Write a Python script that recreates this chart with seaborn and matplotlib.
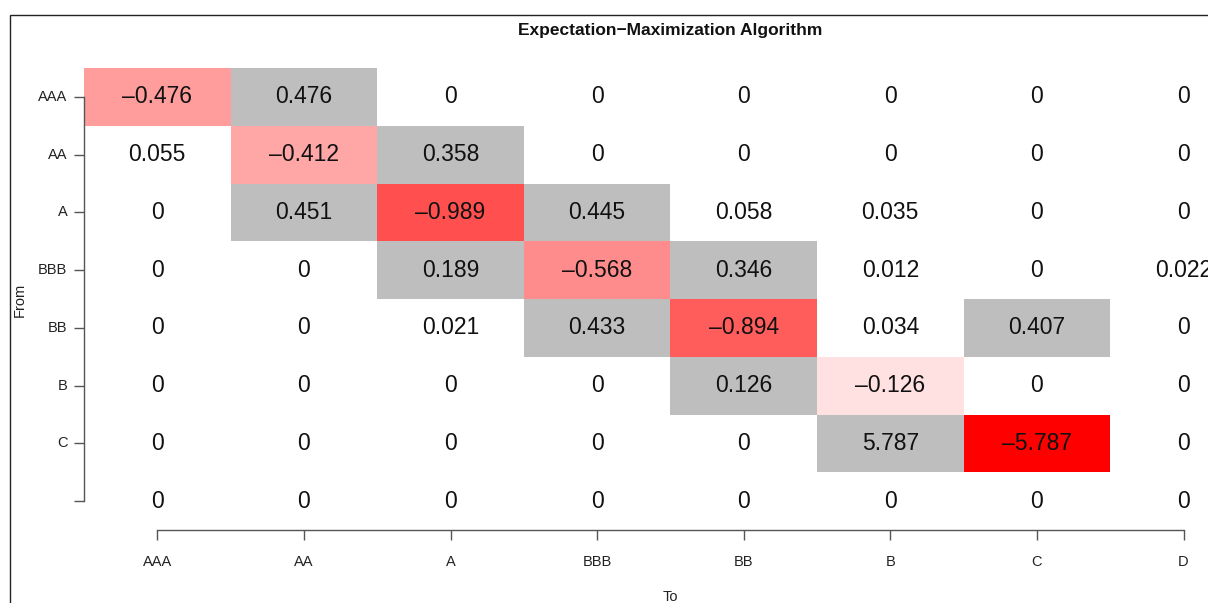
import numpy as np
import pandas as pd
import matplotlib
matplotlib.use("Agg")
import matplotlib.pyplot as plt
import matplotlib.colors as mcolors
from matplotlib.patches import Rectangle
import seaborn as sns

# Rating labels
to_states = ["AAA", "AA", "A", "BBB", "BB", "B", "C", "D"]
from_states = ["AAA", "AA", "A", "BBB", "BB", "B", "C", ""]

# Estimated generator matrix, one list per "From" state
row_AAA = [-0.476, 0.476, 0, 0, 0, 0, 0, 0]
row_AA = [0.055, -0.412, 0.358, 0, 0, 0, 0, 0]
row_A = [0, 0.451, -0.989, 0.445, 0.058, 0.035, 0, 0]
row_BBB = [0, 0, 0.189, -0.568, 0.346, 0.012, 0, 0.022]
row_BB = [0, 0, 0.021, 0.433, -0.894, 0.034, 0.407, 0]
row_B = [0, 0, 0, 0, 0.126, -0.126, 0, 0]
row_C = [0, 0, 0, 0, 0, 5.787, -5.787, 0]
row_D = [0, 0, 0, 0, 0, 0, 0, 0]

# off-diagonal intensities above this are shaded grey
highlight_threshold = 0.1

title = "Expectation\u2212Maximization Algorithm"

plt.rcParams["font.family"] = ["Liberation Sans", "DejaVu Sans"]

Q = pd.DataFrame([row_AAA, row_AA, row_A, row_BBB, row_BB, row_B, row_C, row_D],
                 index=from_states, columns=to_states)
vals = Q.to_numpy()
n = len(to_states)


def fmt(v):
    if v == 0:
        return "0"
    s = f"{v:.3f}"
    return s.replace("-", "\u2013")


labels = np.vectorize(fmt)(vals)

W, H = 1208, 603
fig = plt.figure(figsize=(W / 100, H / 100), dpi=100)

# plotting region in pixels (cells fill it exactly; D column runs past the right edge)
left_px, top_px = 84, 68
cell_w, cell_h = 146.6, 57.75
ax = fig.add_axes([left_px / W, 1 - (top_px + n * cell_h) / H,
                   n * cell_w / W, n * cell_h / H])

diag = np.eye(n, dtype=bool)
gray_mask = ~((vals > highlight_threshold) & ~diag)
red_mask = ~(diag & (vals < 0))

white_red = mcolors.LinearSegmentedColormap.from_list("wr", ["#ffffff", "#ff0000"])
norm = mcolors.FuncNorm((np.log1p, np.expm1), vmin=0, vmax=np.e - 1, clip=True)

# diagonal (exit rates) coloured by magnitude
sns.heatmap(pd.DataFrame(np.abs(vals), index=from_states, columns=to_states),
            mask=red_mask, cmap=white_red, norm=norm, cbar=False, ax=ax,
            annot=False)
# larger off-diagonal transition intensities in grey
sns.heatmap(pd.DataFrame(np.ones_like(vals), index=from_states, columns=to_states),
            mask=gray_mask, cmap=mcolors.ListedColormap(["#bebebe"]), cbar=False,
            ax=ax, annot=False)

# value labels for every cell
for i in range(n):
    for j in range(n):
        ax.text(j + 0.5, i + 0.5, labels[i, j], ha="center", va="center",
                fontsize=16.5, color="#111111", clip_on=False)

ax.set_xlim(0, n)
ax.set_ylim(n, 0)

# R-style axes: lines running from the first to the last tick
for side in ["top", "right"]:
    ax.spines[side].set_visible(False)
for side in ["left", "bottom"]:
    ax.spines[side].set_visible(True)
    ax.spines[side].set_color("#555555")
    ax.spines[side].set_linewidth(1.0)
ax.spines["bottom"].set_bounds(0.5, n - 0.5)
ax.spines["left"].set_bounds(0.5, n - 0.5)

ax.set_xticks(np.arange(n) + 0.5)
ax.set_xticklabels(to_states, rotation=0)
ax.set_yticks(np.arange(n) + 0.5)
ax.set_yticklabels(from_states, rotation=0)
ax.tick_params(axis="both", direction="out", length=7, width=1.0,
               color="#555555", labelsize=10.5, labelcolor="#222222")
ax.tick_params(axis="x", pad=11)
ax.tick_params(axis="y", pad=5)
ax.set_xlabel("")
ax.set_ylabel("")

fig.text(670 / W, 1 - 597 / H, "To", ha="center", va="center", fontsize=10.5,
         color="#222222")
fig.text(20 / W, 1 - 300 / H, "From", ha="center", va="center", fontsize=10.5,
         rotation=90, color="#222222")
fig.text(670 / W, 1 - 30 / H, title, ha="center", va="center", fontsize=12.5,
         fontweight="bold", color="#111111")

# outer frame
fig.add_artist(Rectangle((10 / W, -0.1), 1.2, 1 - 15 / H + 0.1,
                         transform=fig.transFigure, fill=False,
                         edgecolor="#222222", linewidth=1.0))

fig.savefig("out.png", dpi=100)
